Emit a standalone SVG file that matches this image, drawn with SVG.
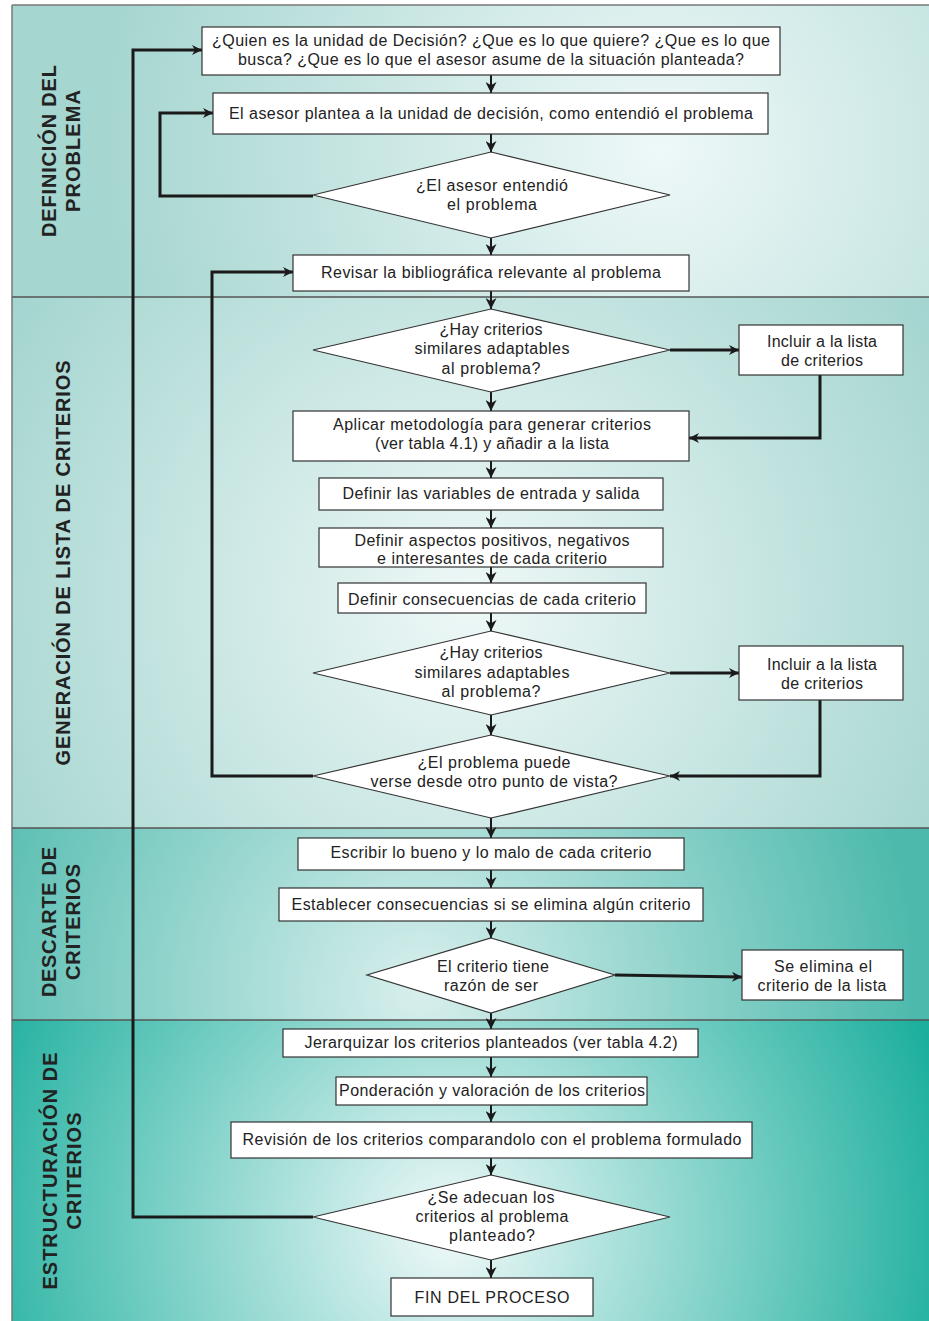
<svg xmlns="http://www.w3.org/2000/svg" width="929" height="1321" viewBox="0 0 929 1321">
<defs>
<radialGradient id="g1" gradientUnits="userSpaceOnUse" cx="660" cy="150" r="560">
<stop offset="0" stop-color="#eef8f8"/><stop offset="1" stop-color="#a6d6d0"/></radialGradient>
<radialGradient id="g2" gradientUnits="userSpaceOnUse" cx="470" cy="600" r="560">
<stop offset="0" stop-color="#eef8f7"/><stop offset="1" stop-color="#a2d4ce"/></radialGradient>
<radialGradient id="g3" gradientUnits="userSpaceOnUse" cx="420" cy="990" r="500">
<stop offset="0" stop-color="#d8efed"/><stop offset="1" stop-color="#4cb9ac"/></radialGradient>
<radialGradient id="g4" gradientUnits="userSpaceOnUse" cx="450" cy="1230" r="520">
<stop offset="0" stop-color="#f0f9f9"/><stop offset="1" stop-color="#1aae9c"/></radialGradient>
<marker id="ah" viewBox="0 0 10 10" refX="10" refY="5" markerWidth="12" markerHeight="10" markerUnits="userSpaceOnUse" orient="auto">
<path d="M0,0 L10,5 L0,10 L3,5 Z" fill="#1a1a1a"/></marker>
<marker id="ahs" viewBox="0 0 10 10" refX="10" refY="5" markerWidth="11" markerHeight="11" markerUnits="userSpaceOnUse" orient="auto">
<path d="M0,0 L10,5 L0,10 L3,5 Z" fill="#1a1a1a"/></marker>
</defs>
<style>
.box{fill:#fff;stroke:#333;stroke-width:1.2}
.t{font-family:"Liberation Sans",Arial,sans-serif;font-size:16px;fill:#222;text-anchor:middle}
.lab{font-family:"Liberation Sans",Arial,sans-serif;font-size:20px;font-weight:bold;fill:#222;text-anchor:middle}
.fb{fill:none;stroke:#1a1a1a;stroke-width:3;marker-end:url(#ah)}
.v{fill:none;stroke:#1a1a1a;stroke-width:2;marker-end:url(#ahs)}
.div{stroke:#555;stroke-width:1.5}
</style>
<g id="background">
<rect x="12" y="5" width="917" height="292" fill="url(#g1)"/>
<rect x="12" y="297" width="917" height="531" fill="url(#g2)"/>
<rect x="12" y="828" width="917" height="192" fill="url(#g3)"/>
<rect x="12" y="1020" width="917" height="301" fill="url(#g4)"/>
<line x1="12" y1="5" x2="929" y2="5" stroke="#777" stroke-width="1.5"/>
<line x1="12" y1="5" x2="12" y2="1321" stroke="#777" stroke-width="1.5"/>
<line class="div" x1="12" y1="297" x2="929" y2="297"/>
<line class="div" x1="12" y1="828" x2="929" y2="828"/>
<line class="div" x1="12" y1="1020" x2="929" y2="1020"/>
</g>
<g id="labels">
<g id="lane1"><text class="lab" transform="translate(56,151) rotate(-90)" textLength="172">DEFINICIÓN DEL</text>
<text class="lab" transform="translate(80,151) rotate(-90)" textLength="122">PROBLEMA</text></g>
<g id="lane2"><text class="lab" transform="translate(70,563) rotate(-90)" textLength="405">GENERACIÓN DE LISTA DE CRITERIOS</text></g>
<g id="lane3"><text class="lab" transform="translate(56,922) rotate(-90)" textLength="150">DESCARTE DE</text>
<text class="lab" transform="translate(80,922) rotate(-90)" textLength="116">CRITERIOS</text></g>
<g id="lane4"><text class="lab" transform="translate(57,1171) rotate(-90)" textLength="237">ESTRUCTURACIÓN DE</text>
<text class="lab" transform="translate(81,1171) rotate(-90)" textLength="117">CRITERIOS</text></g>
</g>
<g id="connectors">
<polyline class="fb" points="313,1217 133,1217 133,50 202,50"/>
<polyline class="fb" points="313,196 160,196 160,113 213,113"/>
<polyline class="fb" points="313,776 212,776 212,272 293,272"/>
<polyline class="fb" points="670,350 739,350"/>
<polyline class="fb" points="820,375 820,438 689,438"/>
<polyline class="fb" points="670,673 739,673"/>
<polyline class="fb" points="820,700 820,776 670,776"/>
<polyline class="fb" points="615,975 742,977"/>
<line class="v" x1="491" y1="75" x2="491" y2="93"/>
<line class="v" x1="491" y1="134" x2="491" y2="152"/>
<line class="v" x1="491" y1="238" x2="491" y2="255"/>
<line class="v" x1="491" y1="291" x2="491" y2="309"/>
<line class="v" x1="491" y1="392" x2="491" y2="411"/>
<line class="v" x1="491" y1="461" x2="491" y2="478"/>
<line class="v" x1="491" y1="510" x2="491" y2="528"/>
<line class="v" x1="491" y1="567" x2="491" y2="583"/>
<line class="v" x1="491" y1="613" x2="491" y2="631"/>
<line class="v" x1="491" y1="715" x2="491" y2="735"/>
<line class="v" x1="491" y1="818" x2="491" y2="838"/>
<line class="v" x1="491" y1="870" x2="491" y2="888"/>
<line class="v" x1="491" y1="921" x2="491" y2="938"/>
<line class="v" x1="491" y1="1013" x2="491" y2="1029"/>
<line class="v" x1="491" y1="1057" x2="491" y2="1077"/>
<line class="v" x1="491" y1="1105" x2="491" y2="1122"/>
<line class="v" x1="491" y1="1158" x2="491" y2="1175"/>
<line class="v" x1="491" y1="1260" x2="491" y2="1278"/>
</g>
<g id="n1"><rect class="box" x="202" y="27" width="578" height="48"/>
<text class="t" x="491" y="46" textLength="558">¿Quien es la unidad de Decisión? ¿Que es lo que quiere? ¿Que es lo que</text>
<text class="t" x="491" y="65" textLength="506">busca? ¿Que es lo que el asesor asume de la situación planteada?</text></g>
<g id="n2"><rect class="box" x="213" y="93" width="555" height="41"/>
<text class="t" x="491" y="119" textLength="524">El asesor plantea a la unidad de decisión, como entendió el problema</text></g>
<g id="d1"><polygon class="box" points="491,152 670,195 491,238 313,195"/>
<text class="t" x="492" y="191" textLength="152">¿El asesor entendió</text>
<text class="t" x="492" y="210" textLength="90">el problema</text></g>
<g id="n3"><rect class="box" x="293" y="255" width="396" height="36"/>
<text class="t" x="491" y="278" textLength="340">Revisar la bibliográfica relevante al problema</text></g>
<g id="d2"><polygon class="box" points="491,309 670,350 491,392 313,350"/>
<text class="t" x="491" y="335" textLength="103">¿Hay criterios</text>
<text class="t" x="492" y="354" textLength="155">similares adaptables</text>
<text class="t" x="491" y="374" textLength="99">al problema?</text></g>
<g id="n4"><rect class="box" x="739" y="325" width="164" height="50"/>
<text class="t" x="822" y="347" textLength="110">Incluir a la lista</text>
<text class="t" x="822" y="366" textLength="82">de criterios</text></g>
<g id="n5"><rect class="box" x="293" y="411" width="396" height="50"/>
<text class="t" x="492" y="430" textLength="318">Aplicar metodología para generar criterios</text>
<text class="t" x="492" y="449" textLength="234">(ver tabla 4.1) y añadir a la lista</text></g>
<g id="n6"><rect class="box" x="319" y="478" width="344" height="32"/>
<text class="t" x="491" y="499" textLength="297">Definir las variables de entrada y salida</text></g>
<g id="n7"><rect class="box" x="319" y="528" width="344" height="39"/>
<text class="t" x="492" y="546" textLength="275">Definir aspectos positivos, negativos</text>
<text class="t" x="492" y="564" textLength="230">e interesantes de cada criterio</text></g>
<g id="n8"><rect class="box" x="338" y="583" width="308" height="30"/>
<text class="t" x="492" y="605" textLength="288">Definir consecuencias de cada criterio</text></g>
<g id="d3"><polygon class="box" points="491,631 670,673 491,715 313,673"/>
<text class="t" x="491" y="658" textLength="103">¿Hay criterios</text>
<text class="t" x="492" y="678" textLength="155">similares adaptables</text>
<text class="t" x="491" y="697" textLength="99">al problema?</text></g>
<g id="n9"><rect class="box" x="739" y="646" width="164" height="54"/>
<text class="t" x="822" y="670" textLength="110">Incluir a la lista</text>
<text class="t" x="822" y="689" textLength="82">de criterios</text></g>
<g id="d4"><polygon class="box" points="491,735 670,776 491,818 313,776"/>
<text class="t" x="494" y="768" textLength="153">¿El problema puede</text>
<text class="t" x="494" y="787" textLength="247">verse desde otro punto de vista?</text></g>
<g id="n10"><rect class="box" x="298" y="838" width="386" height="32"/>
<text class="t" x="491" y="858" textLength="321">Escribir lo bueno y lo malo de cada criterio</text></g>
<g id="n11"><rect class="box" x="279" y="888" width="424" height="33"/>
<text class="t" x="491" y="910" textLength="399">Establecer consecuencias si se elimina algún criterio</text></g>
<g id="d5"><polygon class="box" points="491,938 615,975 491,1013 367,975"/>
<text class="t" x="493" y="972" textLength="112">El criterio tiene</text>
<text class="t" x="491" y="991" textLength="94">razón de ser</text></g>
<g id="n12"><rect class="box" x="742" y="950" width="161" height="50"/>
<text class="t" x="823" y="972" textLength="98">Se elimina el</text>
<text class="t" x="822" y="991" textLength="129">criterio de la lista</text></g>
<g id="n13"><rect class="box" x="283" y="1029" width="415" height="28"/>
<text class="t" x="491" y="1048" textLength="373">Jerarquizar los criterios planteados (ver tabla 4.2)</text></g>
<g id="n14"><rect class="box" x="336" y="1077" width="311" height="28"/>
<text class="t" x="492" y="1096" textLength="306">Ponderación y valoración de los criterios</text></g>
<g id="n15"><rect class="box" x="231" y="1122" width="521" height="36"/>
<text class="t" x="492" y="1145" textLength="499">Revisión de los criterios comparandolo con el problema formulado</text></g>
<g id="d6"><polygon class="box" points="491,1175 670,1217 491,1260 313,1217"/>
<text class="t" x="491" y="1203" textLength="127">¿Se adecuan los</text>
<text class="t" x="492" y="1222" textLength="153">criterios al problema</text>
<text class="t" x="492" y="1241" textLength="86">planteado?</text></g>
<g id="n16"><rect class="box" x="391" y="1278" width="202" height="38"/>
<text class="t" x="492" y="1303" textLength="155">FIN DEL PROCESO</text></g>
</svg>
